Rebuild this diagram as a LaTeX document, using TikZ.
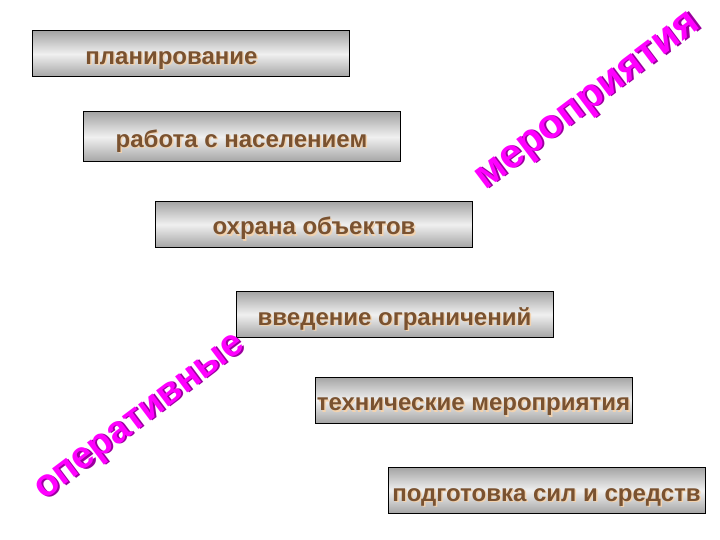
\documentclass[tikz,border=0pt]{standalone}
\usepackage{fontspec}
\setmainfont{Liberation Sans}
\usetikzlibrary{positioning}

\definecolor{boxgrey}{HTML}{A4A4A4}
\definecolor{boxlight}{HTML}{F0F0F0}
\definecolor{labelbrown}{HTML}{7A5230}
\definecolor{labelglow}{HTML}{F2D2AE}
\definecolor{wordpink}{HTML}{FF00FF}
\definecolor{wordshade}{HTML}{9A009E}

\newcommand{\shadowed}[3]{\makebox[0pt][l]{\hspace{1.5pt}\raisebox{-1.5pt}{\color{#1}#3}}{\color{#2}#3}}

\begin{document}
\begin{tikzpicture}[x=1pt,y=-1pt,
  box node/.style={draw=black,line width=1pt,top color=boxgrey,bottom color=boxgrey,middle color=boxlight,
    minimum width=317pt,minimum height=46pt,inner sep=0pt,text height=25pt,text depth=4pt,
    font=\bfseries\fontsize{24}{26}\selectfont},
  big word/.style={rotate=37,inner sep=0pt,font=\bfseries\fontsize{41}{45}\selectfont}]

  \useasboundingbox (0,0) rectangle (720,540);

  \node[box node] at (190.5,54) (plan) {\hspace*{-38pt}\shadowed{labelglow}{labelbrown}{планирование}};
  \node[box node,minimum height=50pt] at (241.5,137) (work) {\shadowed{labelglow}{labelbrown}{работа с населением}};
  \node[box node] at (314,224.5) (guard) {\shadowed{labelglow}{labelbrown}{охрана объектов}};
  \node[box node] at (394.5,314.5) (limit) {\shadowed{labelglow}{labelbrown}{введение ограничений}};
  \node[box node] at (473.5,400) (tech) {\shadowed{labelglow}{labelbrown}{технические мероприятия}};
  \node[box node] at (546.5,490.5) (prep) {\shadowed{labelglow}{labelbrown}{подготовка сил и средств}};

  \node[big word] at (590,104) (events) {\shadowed{wordshade}{wordpink}{мероприятия}};
  \node[big word,font=\bfseries\fontsize{38}{42}\selectfont] at (142,420) (oper) {\shadowed{wordshade}{wordpink}{оперативные}};

\end{tikzpicture}
\end{document}
